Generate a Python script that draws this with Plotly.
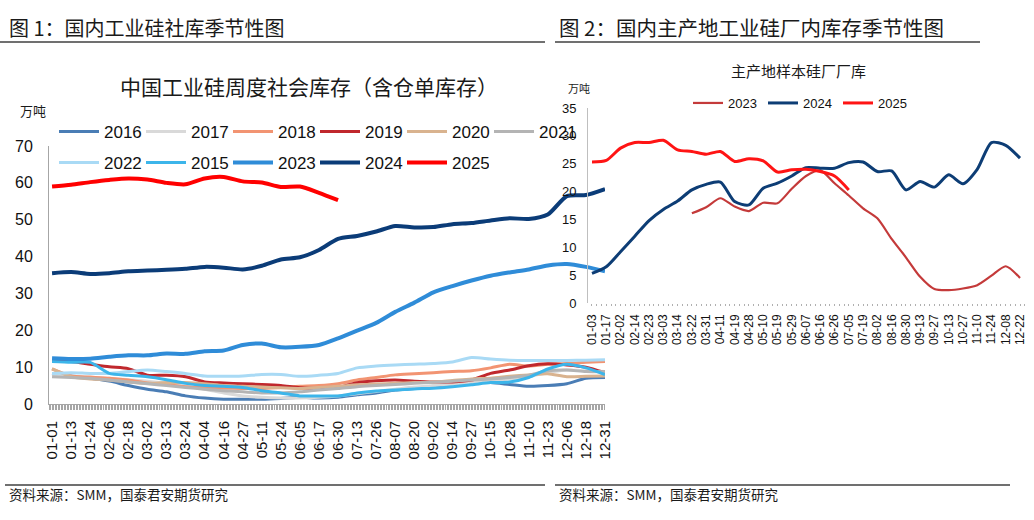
import plotly.graph_objects as go

W, H = 1034, 520
LAT = "Liberation Sans, Arial, Noto Sans CJK SC, sans-serif"
CJK = "Noto Sans CJK SC, Liberation Sans, sans-serif"

# ---------------- data: chart 1 (weekly social inventory, 10k t) ----------------
left_labels = ["01-01", "01-13", "01-24", "02-06", "02-18", "03-02", "03-13", "03-24",
               "04-04", "04-16", "04-27", "05-11", "05-24", "06-05", "06-17", "06-30",
               "07-13", "07-26", "08-07", "08-20", "09-02", "09-14", "09-27", "10-15",
               "10-28", "11-10", "11-23", "12-06", "12-18", "12-31"]

v2016 = [8.3, 7.6, 7.0, 6.2, 5.0, 4.0, 3.3, 2.2, 1.6, 1.3, 1.3, 1.3, 1.5, 1.8, 1.6,
         1.8, 2.5, 3.0, 3.8, 4.2, 4.8, 5.5, 6.0, 5.8, 5.3, 4.8, 5.0, 5.5, 7.0, 7.2]
v2017 = [8.0, 7.5, 7.2, 7.0, 6.6, 6.2, 5.6, 4.8, 4.0, 3.0, 2.2, 1.8, 1.6, 1.6, 1.8,
         2.2, 2.8, 3.4, 4.0, 4.6, 5.0, 5.4, 6.0, 6.4, 6.8, 7.5, 8.5, 9.2, 9.0, 8.8]
v2018 = [9.5, 7.6, 7.3, 7.0, 6.5, 5.7, 5.2, 4.7, 4.5, 4.3, 4.2, 4.2, 4.5, 4.8, 5.0,
         5.5, 6.5, 7.2, 7.9, 8.2, 8.5, 8.8, 9.0, 9.8, 10.8, 10.3, 10.8, 11.0, 11.3, 11.5]
v2019 = [11.9, 11.5, 10.8, 10.1, 9.6, 7.8, 7.8, 7.4, 6.0, 5.7, 5.5, 5.3, 5.0, 4.4, 4.2,
         4.5, 5.8, 6.3, 6.5, 6.2, 6.0, 6.0, 6.5, 8.3, 9.2, 10.4, 10.9, 10.6, 10.0, 8.5]
v2020 = [9.5, 7.4, 6.8, 6.5, 6.0, 5.6, 5.8, 5.8, 5.5, 5.0, 4.8, 4.6, 4.4, 4.2, 4.5,
         4.8, 5.2, 5.4, 5.6, 5.8, 6.0, 6.4, 6.8, 7.0, 7.5, 7.9, 8.2, 7.4, 7.5, 7.6]
v2021 = [7.4, 7.2, 7.0, 6.5, 6.0, 5.5, 5.0, 4.5, 4.0, 3.6, 3.3, 3.0, 3.0, 3.3, 3.8,
         4.2, 4.7, 5.0, 5.3, 5.6, 5.9, 6.2, 6.5, 6.8, 7.2, 7.8, 9.0, 9.2, 8.8, 8.8]
v2022 = [8.3, 8.5, 8.3, 8.3, 8.8, 9.2, 8.8, 8.3, 7.6, 7.5, 7.6, 8.0, 8.0, 7.5, 7.8,
         8.3, 9.8, 10.3, 10.6, 10.8, 11.0, 11.4, 12.6, 12.2, 11.9, 11.8, 11.8, 11.8, 11.9, 12.0]
v2015 = [11.5, 11.3, 11.3, 8.3, 7.8, 7.4, 6.6, 5.6, 5.0, 4.8, 4.5, 3.6, 3.0, 2.2, 2.2,
         2.2, 3.0, 3.5, 3.8, 4.1, 4.3, 4.7, 5.2, 5.8, 6.0, 7.2, 9.5, 10.8, 9.8, 8.0]
v2023 = [12.4, 12.2, 12.3, 12.8, 13.2, 13.2, 13.7, 13.6, 14.3, 14.5, 16.0, 16.4, 15.4, 15.5, 16.0,
         17.8, 19.9, 22.0, 25.0, 27.5, 30.3, 32.0, 33.5, 34.8, 35.7, 36.5, 37.6, 38.0, 37.2, 36.0]
v2024 = [35.5, 35.8, 35.3, 35.5, 36.0, 36.2, 36.4, 36.7, 37.2, 37.0, 36.5, 37.5, 39.2, 39.8, 41.8,
         44.8, 45.6, 46.8, 48.3, 47.9, 48.0, 48.8, 49.1, 49.8, 50.4, 50.2, 51.4, 56.4, 56.7, 58.3]
v2025 = [59.0, 59.5, 60.2, 60.8, 61.2, 60.9, 60.0, 59.6, 61.2, 61.6, 60.4, 60.1, 58.9, 59.0, 57.3, 55.3]

# ---------------- data: chart 2 (plant inventory in main producing areas, 10k t) ----------------
right_labels = ["01-03", "01-17", "02-02", "02-14", "02-23", "03-03", "03-14", "03-22",
                "03-31", "04-11", "04-19", "04-28", "05-10", "05-19", "05-29", "06-07",
                "06-16", "06-26", "07-05", "07-19", "08-02", "08-16", "08-30", "09-13",
                "09-27", "10-13", "10-27", "11-10", "11-24", "12-08", "12-22"]

r2023 = [None, None, None, None, None, None, None, 16.1, 17.2, 18.8, 17.3, 16.5, 18.0, 17.9, 20.5,
         22.8, 23.8, 21.5, 19.3, 17.0, 15.2, 11.5, 8.2, 4.7, 2.5, 2.3, 2.6, 3.2, 4.9, 6.6, 4.5]
r2024 = [5.3, 6.5, 9.2, 12.0, 14.8, 16.8, 18.3, 20.3, 21.3, 21.7, 18.2, 17.6, 20.6, 21.5, 22.8,
         24.3, 24.2, 24.2, 25.2, 25.3, 23.6, 23.7, 20.3, 21.8, 20.8, 23.0, 21.4, 24.0, 28.8, 28.3, 26.0]
r2025 = [25.3, 25.6, 27.8, 28.8, 28.8, 29.2, 27.5, 27.2, 26.7, 27.2, 25.4, 25.9, 25.5, 23.5, 23.9,
         24.0, 23.6, 22.8, 20.3]

left_series = [
    ("2016", v2016, "#4a7db5", 3, "legend"),
    ("2017", v2017, "#d9d9d9", 3, "legend"),
    ("2018", v2018, "#f29472", 3, "legend"),
    ("2019", v2019, "#c0282d", 3, "legend"),
    ("2020", v2020, "#d9b38f", 3, "legend"),
    ("2021", v2021, "#b4b4b4", 3, "legend"),
    ("2022", v2022, "#a9daf5", 3, "legend2"),
    ("2015", v2015, "#3cb5ea", 3, "legend2"),
    ("2023", v2023, "#2f8cd8", 4, "legend2"),
    ("2024", v2024, "#0b3c78", 4, "legend2"),
    ("2025", v2025, "#ff0000", 4, "legend2"),
]
right_series = [
    ("2023", r2023, "#c43a3a", 2.2),
    ("2024", r2024, "#0d3d75", 3),
    ("2025", r2025, "#ff1414", 3),
]


def px(x):
    return x / W


def py(y):
    return 1 - y / H


fig = go.Figure()
lx = list(range(len(left_labels)))
for name, vals, color, width, leg in left_series:
    fig.add_trace(go.Scatter(
        x=lx[:len(vals)], y=vals, name=name, mode="lines",
        line=dict(color=color, width=width, shape="spline", smoothing=0.7),
        xaxis="x", yaxis="y", legend=leg, hoverinfo="skip"))

rx = list(range(len(right_labels)))
for name, vals, color, width in right_series:
    fig.add_trace(go.Scatter(
        x=rx[:len(vals)], y=vals, name=name, mode="lines",
        line=dict(color=color, width=width, shape="spline", smoothing=0.7),
        xaxis="x2", yaxis="y2", legend="legend3", hoverinfo="skip", connectgaps=False))

axis_common = dict(showgrid=False, zeroline=False, fixedrange=True, automargin=False)

fig.update_layout(
    width=W, height=H, margin=dict(l=0, r=0, t=0, b=0, pad=0, autoexpand=False),
    paper_bgcolor="white", plot_bgcolor="rgba(0,0,0,0)",
    font=dict(family=LAT, color="#111111"),
    xaxis=dict(domain=[px(49), px(605)], anchor="y", range=[-0.16, 29.0],
               tickmode="array", tickvals=lx, ticktext=left_labels, tickangle=-90,
               tickfont=dict(size=15, family=LAT, color="#111"), ticks="",
               showline=True, linecolor="#a6a6a6", linewidth=1,
               minor=dict(ticks="outside", ticklen=5, tickcolor="#a6a6a6", tickwidth=1,
                          dtick=1 / 12.6, tick0=0),
               ticklabelstandoff=10, **axis_common),
    yaxis=dict(domain=[py(404), py(146)], anchor="x", range=[0, 70], dtick=10,
               tickfont=dict(size=16, family=LAT, color="#111"), ticks="",
               showline=True, linecolor="#a6a6a6", linewidth=1,
               ticklabelstandoff=12, **axis_common),
    xaxis2=dict(domain=[px(588), px(1028)], anchor="y2", range=[-0.28, 30.56],
                tickmode="array", tickvals=rx, ticktext=right_labels, tickangle=-90,
                tickfont=dict(size=12, family=LAT, color="#111"), ticks="",
                showline=False,
                minor=dict(ticks="outside", ticklen=2, tickcolor="#b0b0b0", tickwidth=1,
                           dtick=1 / 3, tick0=0),
                ticklabelstandoff=8, **axis_common),
    yaxis2=dict(domain=[py(303), py(108)], anchor="x2", range=[0, 35], dtick=5,
                tickfont=dict(size=13, family=LAT, color="#111"), ticks="",
                showline=True, linecolor="#bfbfbf", linewidth=1,
                ticklabelstandoff=8, **axis_common),
    legend=dict(orientation="h", x=px(54), y=py(132), xanchor="left", yanchor="middle",
                font=dict(size=17, family=LAT, color="#111"), itemwidth=40,
                entrywidth=32, entrywidthmode="pixels", bgcolor="rgba(0,0,0,0)",
                traceorder="normal", tracegroupgap=0),
    legend2=dict(orientation="h", x=px(54), y=py(163), xanchor="left", yanchor="middle",
                 font=dict(size=17, family=LAT, color="#111"), itemwidth=40,
                 entrywidth=32, entrywidthmode="pixels", bgcolor="rgba(0,0,0,0)",
                 traceorder="normal", tracegroupgap=0),
    legend3=dict(orientation="h", x=px(688), y=py(103), xanchor="left", yanchor="middle",
                 font=dict(size=13, family=LAT, color="#111"), itemwidth=30,
                 entrywidth=30, entrywidthmode="pixels", bgcolor="rgba(0,0,0,0)",
                 traceorder="normal"),
    showlegend=True,
)

ann = [
    dict(text="图 1：国内工业硅社库季节性图", x=px(7), y=py(27), size=20, xa="left"),
    dict(text="图 2：国内主产地工业硅厂内库存季节性图", x=px(557), y=py(27), size=20.5, xa="left"),
    dict(text="中国工业硅周度社会库存（含仓单库存）", x=px(309), y=py(86), size=21, xa="center"),
    dict(text="万吨", x=px(18), y=py(110), size=13, xa="left"),
    dict(text="主产地样本硅厂厂库", x=px(798), y=py(71), size=15, xa="center"),
    dict(text="万吨", x=px(566), y=py(88), size=11, xa="left"),
    dict(text="资料来源：SMM，国泰君安期货研究", x=px(7), y=py(494), size=13.5, xa="left"),
    dict(text="资料来源：SMM，国泰君安期货研究", x=px(557), y=py(494), size=13.5, xa="left"),
]
for a in ann:
    fig.add_annotation(text=a["text"], x=a["x"], y=a["y"], xref="paper", yref="paper",
                       xanchor=a["xa"], yanchor="middle", showarrow=False,
                       font=dict(family=CJK, size=a["size"], color="#1a1a1a"))

for x0, x1, y in [(0, 545, 42), (555, 980, 42), (5, 545, 485), (555, 1010, 485)]:
    fig.add_shape(type="line", xref="paper", yref="paper", x0=px(x0), x1=px(x1),
                  y0=py(y), y1=py(y), line=dict(color="#404040", width=1.3))

fig.write_html("out.html", config={"displayModeBar": False},
               post_script="document.body.style.margin='0';"
                           "document.body.style.overflow='hidden';")
